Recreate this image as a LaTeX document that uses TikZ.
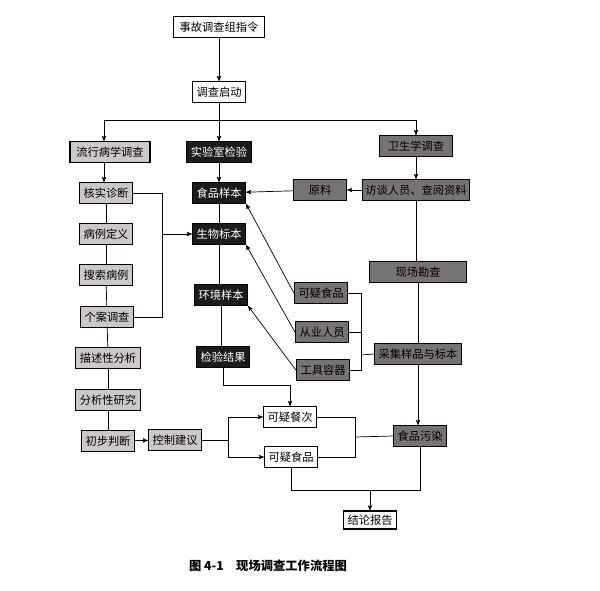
\documentclass[tikz,border=0pt]{standalone}
\usepackage{fontspec}
\setmainfont{Noto Sans CJK SC}
\usepackage{tikz}
\usetikzlibrary{shapes}
\usetikzlibrary{arrows}
\definecolor{lightbox}{HTML}{CDC8C8}
\definecolor{graybox}{HTML}{787272}
\definecolor{blackbox}{HTML}{1C1A1A}
\tikzset{
	white node/.style={rectangle,draw,fill=white,line width=0.9pt,inner xsep=3.5pt,inner ysep=2pt,minimum height=0.63cm,font=\fontsize{9.6}{11}\selectfont},
	light node/.style={white node,fill=lightbox},
	gray node/.style={white node,fill=graybox},
	black node/.style={white node,fill=blackbox,text=white}
}
\begin{document}
\begin{tikzpicture}[>=stealth',x=0.03cm,y=-0.03cm,line width=0.6pt]
	\useasboundingbox[fill=white] (0,0) rectangle (600,590);
	\node [white node,minimum width=2.75cm] (1) at (219,27) {事故调查组指令};
	\node [white node] (2) at (219,92) {调查启动};
	\node [light node,minimum width=2.4cm] (3) at (110,152) {流行病学调查};
	\node [black node] (4) at (219,152) {实验室检验};
	\node [gray node,minimum width=2.2cm] (5) at (416,146) {卫生学调查};
	\node [light node] (6) at (106,193) {核实诊断};
	\node [light node] (7) at (106,234) {病例定义};
	\node [light node] (8) at (106,275) {搜索病例};
	\node [light node] (9) at (107,317) {个案调查};
	\node [light node] (10) at (108,358) {描述性分析};
	\node [light node] (11) at (108,400) {分析性研究};
	\node [light node] (12) at (108,441) {初步判断};
	\node [light node] (13) at (175,440) {控制建议};
	\node [black node] (14) at (219,193) {食品样本};
	\node [black node] (15) at (219,234) {生物标本};
	\node [black node] (16) at (221,295) {环境样本};
	\node [black node] (17) at (223,357) {检验结果};
	\node [gray node,inner xsep=2.5pt] (18) at (416,190) {访谈人员、查阅资料};
	\node [gray node,minimum width=1.6cm] (19) at (320,190) {原料};
	\node [gray node,minimum width=2.9cm] (20) at (418,272) {现场勘查};
	\node [gray node] (21) at (321,293) {可疑食品};
	\node [gray node] (22) at (322,332) {从业人员};
	\node [gray node] (23) at (323,370) {工具容器};
	\node [gray node] (24) at (418,354) {采集样品与标本};
	\node [white node] (25) at (290,417) {可疑餐次};
	\node [white node] (26) at (291,457) {可疑食品};
	\node [gray node] (27) at (420,436) {食品污染};
	\node [white node,minimum height=0.54cm,inner ysep=1pt] (28) at (370,520) {结论报告};
	\node [font=\fontsize{10.5}{12}\selectfont\bfseries] (title) at (268,566) {图 4-1\quad 现场调查工作流程图};

	\coordinate (a) at (104,120);
	\coordinate (b) at (416,120);
	\coordinate (c) at (162,234);
	\coordinate (d) at (228,440);
	\coordinate (e) at (290,385);
	\coordinate (f) at (361,355);
	\coordinate (g) at (355,437);
	\coordinate (h) at (370,490);

	\draw [->] (1) -- (2);
	\draw [->] (2) -- (4);
	\draw (a) -- (b);
	\draw [->] (a) -- (a |- 3.north);
	\draw [->] (b) -- (5);
	\draw [->] (a |- 3.south) -- (a |- 6.north);
	\draw (6) -- (7);
	\draw (7) -- (8);
	\draw (8) -- (9);
	\draw (9) -- (10);
	\draw (10) -- (11);
	\draw (11) -- (12);
	\draw (6.east) -| (c);
	\draw (9.east) -| (c);
	\draw [->] (c) -- (15.west);
	\draw [->] (12) -- (13);
	\draw (13) -- (d);
	\draw [->] (d) |- (25);
	\draw [->] (d) |- (26);
	\draw [->] (4) -- (14);
	\draw (14) -- (15);
	\draw (15.south) -- (15.south |- 16.north);
	\draw (16.south) -- (16.south |- 17.north);
	\draw [->] (17.south) |- (e) -- (25.north);
	\draw [->] (5) -- (18);
	\draw [->] (18) -- (19);
	\draw [->] (19) -- (14);
	\draw (18.south) -- (18.south |- 20.north);
	\draw (20) -- (24);
	\draw [->] (24.south) -- (24.south |- 27.north);
	\draw (21.east) -| (f);
	\draw (22.east) -| (f);
	\draw (23.east) -| (f);
	\draw (f) -- (24.west);
	\draw [->] (21.west) -- (14.south east);
	\draw [->] (22.west) -- (15.south east);
	\draw [->] (23.west) -- (16.south east);
	\draw (25.east) -| (g);
	\draw (26.east) -| (g);
	\draw (g) -- (27.west);
	\draw (26.south) |- (h);
	\draw (27.south) |- (h);
	\draw [->] (h) -- (28.north);
\end{tikzpicture}
\end{document}
